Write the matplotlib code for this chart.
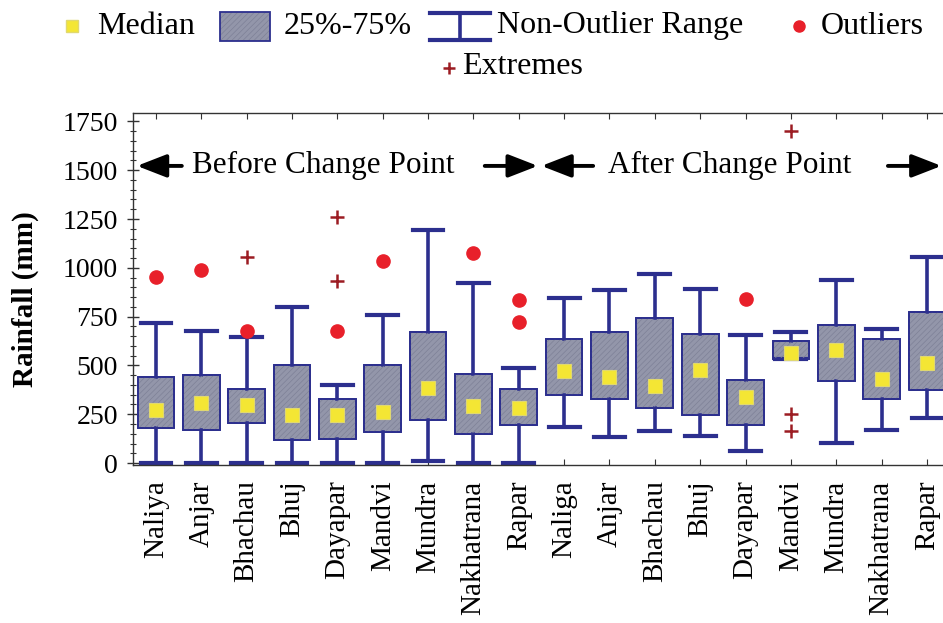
import matplotlib
matplotlib.use("Agg")
import matplotlib.pyplot as plt
from matplotlib.patches import Rectangle, PathPatch
from matplotlib.ticker import MultipleLocator

plt.rcParams['font.family'] = ['Liberation Serif', 'DejaVu Serif']
plt.rcParams['hatch.linewidth'] = 0.5

stations = ['Naliya', 'Anjar', 'Bhachau', 'Bhuj', 'Dayapar', 'Mandvi', 'Mundra', 'Nakhatrana', 'Rapar',
            'Naliga', 'Anjar', 'Bhachau', 'Bhuj', 'Dayapar', 'Mandvi', 'Mundra', 'Nakhatrana', 'Rapar']
whisker_low = [0, 0, 0, 0, 0, 0, 8, 0, 0, 184, 133, 162, 136, 60, 533, 102, 171, 230]
q1 = [179, 171, 205, 119, 124, 159, 222, 148, 193, 350, 329, 282, 247, 193, 533, 422, 329, 372]
median = [273, 307, 299, 244, 244, 261, 384, 290, 282, 469, 440, 393, 478, 336, 563, 580, 432, 515]
q3 = [440, 452, 380, 503, 328, 500, 669, 457, 380, 635, 669, 743, 661, 427, 623, 705, 635, 774]
whisker_high = [717, 678, 645, 799, 401, 760, 1192, 922, 487, 845, 888, 968, 893, 654, 671, 939, 686, 1053]
outlier_pos = [1, 2, 3, 5, 6, 8, 9, 9, 14]
outlier_val = [953, 990, 674, 674, 1036, 1076, 833, 722, 842]
extreme_pos = [3, 5, 5, 15, 15, 15]
extreme_val = [1055, 1260, 930, 1699, 251, 165]
yticks = [0, 250, 500, 750, 1000, 1250, 1500, 1750]

NAVY = '#2c2f8e'
BOXFACE = '#9396aa'
HATCH = '#7e8197'
YELLOW = '#f4e634'
RED = '#e8202a'
DARKRED = '#9c1c22'

W, H = 943, 623
fig = plt.figure(figsize=(W / 100, H / 100), dpi=100)
ax = fig.add_axes([133.3 / W, 1 - 465 / H, 816.3 / W, (465 - 113) / H])

positions = list(range(1, len(stations) + 1))
stats = []
for i in range(len(stations)):
    stats.append(dict(whislo=whisker_low[i], q1=q1[i], med=median[i], q3=q3[i],
                      whishi=whisker_high[i], fliers=[]))

res = ax.bxp(stats, positions=positions, widths=0.81, patch_artist=True, showfliers=False,
             capwidths=0.68,
             boxprops=dict(facecolor=BOXFACE, edgecolor=NAVY, linewidth=1.3),
             whiskerprops=dict(color=NAVY, linewidth=2.6),
             capprops=dict(color=NAVY, linewidth=3.0),
             medianprops=dict(linewidth=0))
for b in res['boxes']:
    ax.add_patch(PathPatch(b.get_path(), transform=b.get_transform(), facecolor='none',
                           edgecolor=HATCH, hatch='//////', linewidth=0, zorder=b.get_zorder()))
    ax.add_patch(PathPatch(b.get_path(), transform=b.get_transform(), facecolor='none',
                           edgecolor=NAVY, linewidth=1.3, zorder=b.get_zorder()))

ax.plot(positions, median, linestyle='none', marker='s', markersize=10,
        markerfacecolor=YELLOW, markeredgecolor='#e0d870', markeredgewidth=0.8, zorder=5)
ax.plot(outlier_pos, outlier_val, linestyle='none', marker='o', markersize=9.5,
        markerfacecolor=RED, markeredgecolor=RED, zorder=5)
ax.plot(extreme_pos, extreme_val, linestyle='none', marker='+', markersize=9.5,
        markeredgecolor=DARKRED, markeredgewidth=1.8, zorder=5)

ax.set_xlim(0.5, 18.5)
ax.set_ylim(-10, 1793)
ax.set_xticks(positions)
ax.set_xticklabels(stations, rotation=90, fontsize=21, va='top')
ax.set_yticks(yticks)
ax.set_yticklabels([str(v) for v in yticks], fontsize=20)
ax.yaxis.set_minor_locator(MultipleLocator(50))
ax.tick_params(axis='x', which='major', direction='in', length=4, top=True, pad=11, color='#333333')
ax.tick_params(axis='y', which='major', direction='inout', length=8, width=1, pad=7, color='#333333')
ax.tick_params(axis='y', which='minor', direction='inout', length=5, width=0.8, color='#333333')
for s in ax.spines.values():
    s.set_color('#333333')
    s.set_linewidth(1.0)
ax.spines['right'].set_visible(False)

ax.set_ylabel('Rainfall (mm)', fontsize=21, fontweight='bold')
ax.yaxis.set_label_coords(-0.115, 0.47)

arrow_kw = dict(arrowstyle='-|>,head_length=0.9,head_width=0.35', color='black', lw=2.8,
                shrinkA=0, shrinkB=0, mutation_scale=20)
ya = 1522
ax.annotate('', xy=(0.58, ya), xytext=(1.57, ya), arrowprops=arrow_kw)
ax.annotate('', xy=(9.42, ya), xytext=(8.25, ya), arrowprops=arrow_kw)
ax.annotate('', xy=(9.5, ya), xytext=(10.64, ya), arrowprops=arrow_kw)
ax.annotate('', xy=(18.32, ya), xytext=(17.14, ya), arrowprops=arrow_kw)
ax.text(4.68, ya, 'Before Change Point', fontsize=22.5, ha='center', va='center')
ax.text(13.66, ya, 'After Change Point', fontsize=22.5, ha='center', va='center')

# legend drawn in pixel space
lg = fig.add_axes([0, 0, 1, 1], facecolor='none')
lg.set_xlim(0, W)
lg.set_ylim(H, 0)
lg.axis('off')
fs = 23
y1 = 26
lg.plot([72], [y1], marker='s', markersize=9, markerfacecolor=YELLOW,
        markeredgecolor='#e0d870', linestyle='none')
lg.text(97, y1, 'Median', fontsize=fs, va='center', ha='left')
lg.add_patch(Rectangle((220, 12), 50, 29, facecolor=BOXFACE, edgecolor='none'))
lg.add_patch(Rectangle((220, 12), 50, 29, facecolor='none', edgecolor=HATCH, linewidth=0, hatch='//////'))
lg.add_patch(Rectangle((220, 12), 50, 29, facecolor='none', edgecolor=NAVY, linewidth=1.3))
lg.text(284, y1, '25%-75%', fontsize=fs, va='center', ha='left')
lg.plot([460, 460], [13, 40], color=NAVY, lw=2.6)
lg.plot([430, 490], [13, 13], color=NAVY, lw=3.0)
lg.plot([430, 490], [40, 40], color=NAVY, lw=3.0)
lg.text(497, y1, 'Non-Outlier Range', fontsize=fs, va='center', ha='left')
lg.plot([799], [y1], marker='o', markersize=8, markerfacecolor=RED, markeredgecolor=RED, linestyle='none')
lg.text(821, y1, 'Outliers', fontsize=fs, va='center', ha='left')
lg.plot([449], [68], marker='+', markersize=9, markeredgecolor=DARKRED, markeredgewidth=1.8, linestyle='none')
lg.text(462, 67, 'Extremes', fontsize=fs, va='center', ha='left')

fig.savefig('out.png', dpi=100)
